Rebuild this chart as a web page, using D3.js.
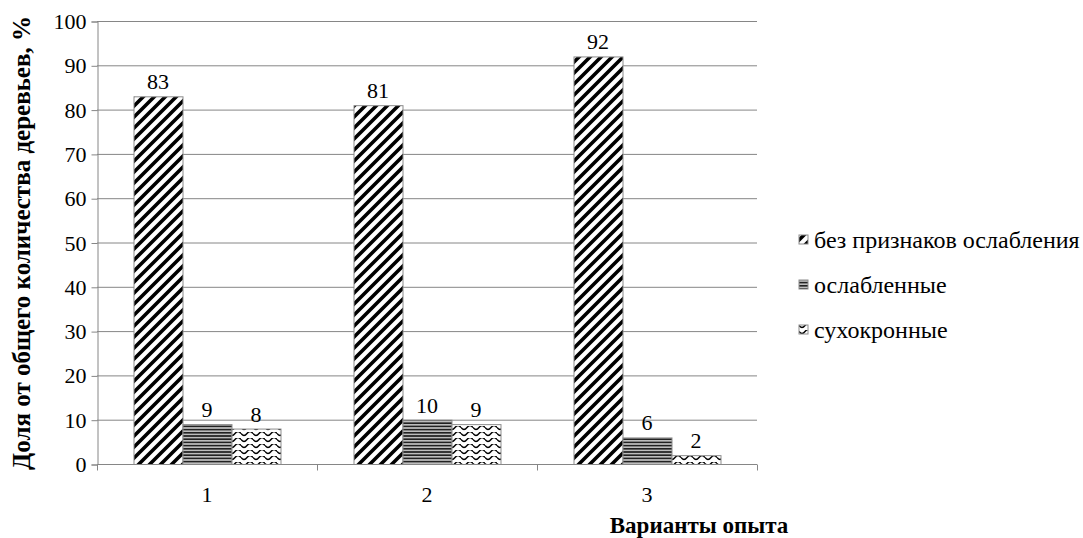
<!DOCTYPE html>
<html>
<head>
    <meta charset='utf-8'>
    <title>Состояние деревьев</title>
    <script src='https://cdn.jsdelivr.net/npm/d3@7/dist/d3.min.js'></script>
    <style>
        body { margin: 0; background: #fff; }
    </style>
</head>
<body>
    <svg width='1083' height='538'></svg>
    <script>
        // данные с диаграммы
        const categories = ['1', '2', '3']
        const seriesNames = ['без признаков ослабления', 'ослабленные', 'сухокронные']
        const healthy = [83, 81, 92]
        const weakened = [9, 10, 6]
        const dry = [8, 9, 2]
        const yTicks = [0, 10, 20, 30, 40, 50, 60, 70, 80, 90, 100]

        const font = "'Liberation Serif'"
        const svg = d3.select('svg')
        const plot = { left: 97, right: 757, top: 21, bottom: 464 }
        const gridColor = '#868686'

        // узоры заливки
        const defs = svg.append('defs')
        const p1 = defs.append('pattern').attr('id', 'diag').attr('patternUnits', 'userSpaceOnUse')
            .attr('width', 11).attr('height', 11)
        p1.append('rect').attr('width', 11).attr('height', 11).attr('fill', '#fff')
        p1.append('path').attr('d', 'M-3,3 L3,-3 M0,11 L11,0 M8,14 L14,8')
            .attr('stroke', '#000').attr('stroke-width', 3.6)

        const p2 = defs.append('pattern').attr('id', 'horiz').attr('patternUnits', 'userSpaceOnUse')
            .attr('width', 6).attr('height', 3.2)
        p2.append('rect').attr('width', 6).attr('height', 3.2).attr('fill', '#bdbdbd')
        p2.append('rect').attr('y', 0).attr('width', 6).attr('height', 1.6).attr('fill', '#222')

        const p3 = defs.append('pattern').attr('id', 'wave').attr('patternUnits', 'userSpaceOnUse')
            .attr('width', 12).attr('height', 6)
        p3.append('rect').attr('width', 12).attr('height', 6).attr('fill', '#fff')
        p3.append('path').attr('d', 'M0,1.5 Q3,5.5 6,1.5 Q9,-2.5 12,1.5')
            .attr('fill', 'none').attr('stroke', '#000').attr('stroke-width', 1.3)
        const fills = ['url(#diag)', 'url(#horiz)', 'url(#wave)']

        const x = d3.scaleBand().domain(categories).range([plot.left, plot.right]).padding(0)
        const xs = d3.scaleBand().domain(seriesNames).range([0, x.bandwidth()])
            .paddingInner(0).paddingOuter(0.745)
        const y = d3.scaleLinear().domain([0, 100]).range([plot.bottom, plot.top])

        // сетка
        svg.append('g').selectAll('line').data(yTicks.filter(d => d > 0)).join('line')
            .attr('x1', plot.left).attr('x2', plot.right)
            .attr('y1', d => y(d) + 0.5).attr('y2', d => y(d) + 0.5)
            .attr('stroke', gridColor).attr('stroke-width', 1)

        // ось Y
        const yAxis = d3.axisLeft(y).tickValues(yTicks).tickSize(6).tickPadding(5)
        const gy = svg.append('g').attr('transform', `translate(${plot.left + 0.5},0.5)`).call(yAxis)
        gy.selectAll('path,line').attr('stroke', gridColor)
        gy.selectAll('text').attr('fill', '#000').style('font-family', font).style('font-size', '22px')

        // столбцы
        const rows = categories.map((c, i) => [healthy[i], weakened[i], dry[i]])
        const groups = svg.append('g').selectAll('g').data(rows).join('g')
            .attr('transform', (d, i) => `translate(${x(categories[i])},0)`)
        groups.selectAll('rect').data(d => d.map((v, j) => ({ v, s: seriesNames[j], j }))).join('rect')
            .attr('x', d => xs(d.s) + 0.5)
            .attr('y', d => y(d.v) + 0.5)
            .attr('width', xs.bandwidth())
            .attr('height', d => y(0) - y(d.v))
            .attr('fill', d => fills[d.j])
            .attr('stroke', '#8c8c8c').attr('stroke-width', 1)
        groups.selectAll('text').data(d => d.map((v, j) => ({ v, s: seriesNames[j] }))).join('text')
            .attr('x', d => xs(d.s) + xs.bandwidth() / 2)
            .attr('y', d => y(d.v) - 7)
            .attr('text-anchor', 'middle')
            .style('font-family', font).style('font-size', '22px')
            .text(d => d.v)

        // ось X
        const xAxis = d3.axisBottom(x).tickSize(0).tickPadding(22)
        const gx = svg.append('g').attr('transform', `translate(0,${plot.bottom + 0.5})`).call(xAxis)
        gx.select('path').attr('stroke', gridColor).attr('d', `M${plot.left},0H${plot.right}`)
        gx.selectAll('text').attr('fill', '#000').style('font-family', font).style('font-size', '22px')
        gx.selectAll('.sep').data(d3.range(categories.length + 1)).join('line')
            .attr('class', 'sep')
            .attr('x1', i => plot.left + i * x.step() + 0.5).attr('x2', i => plot.left + i * x.step() + 0.5)
            .attr('y1', 0).attr('y2', 6).attr('stroke', gridColor)

        // подписи осей
        svg.append('text')
            .attr('transform', `translate(30,243) rotate(-90)`)
            .attr('text-anchor', 'middle').attr('font-weight', 'bold')
            .style('font-family', font).style('font-size', '25px')
            .text('Доля от общего количества деревьев, %')
        svg.append('text')
            .attr('x', 699).attr('y', 533)
            .attr('text-anchor', 'middle').attr('font-weight', 'bold')
            .style('font-family', font).style('font-size', '23px')
            .text('Варианты опыта')

        // легенда
        const legend = svg.append('g').selectAll('g').data(seriesNames).join('g')
            .attr('transform', (d, i) => `translate(799,${240 + i * 45})`)
        legend.append('rect').attr('x', 0).attr('y', -5).attr('width', 9).attr('height', 9)
            .attr('fill', (d, i) => fills[i]).attr('stroke', '#8c8c8c')
        legend.append('text').attr('x', 15).attr('y', 8)
            .style('font-family', font).style('font-size', '24px').text(d => d)
    </script>
</body>
</html>
